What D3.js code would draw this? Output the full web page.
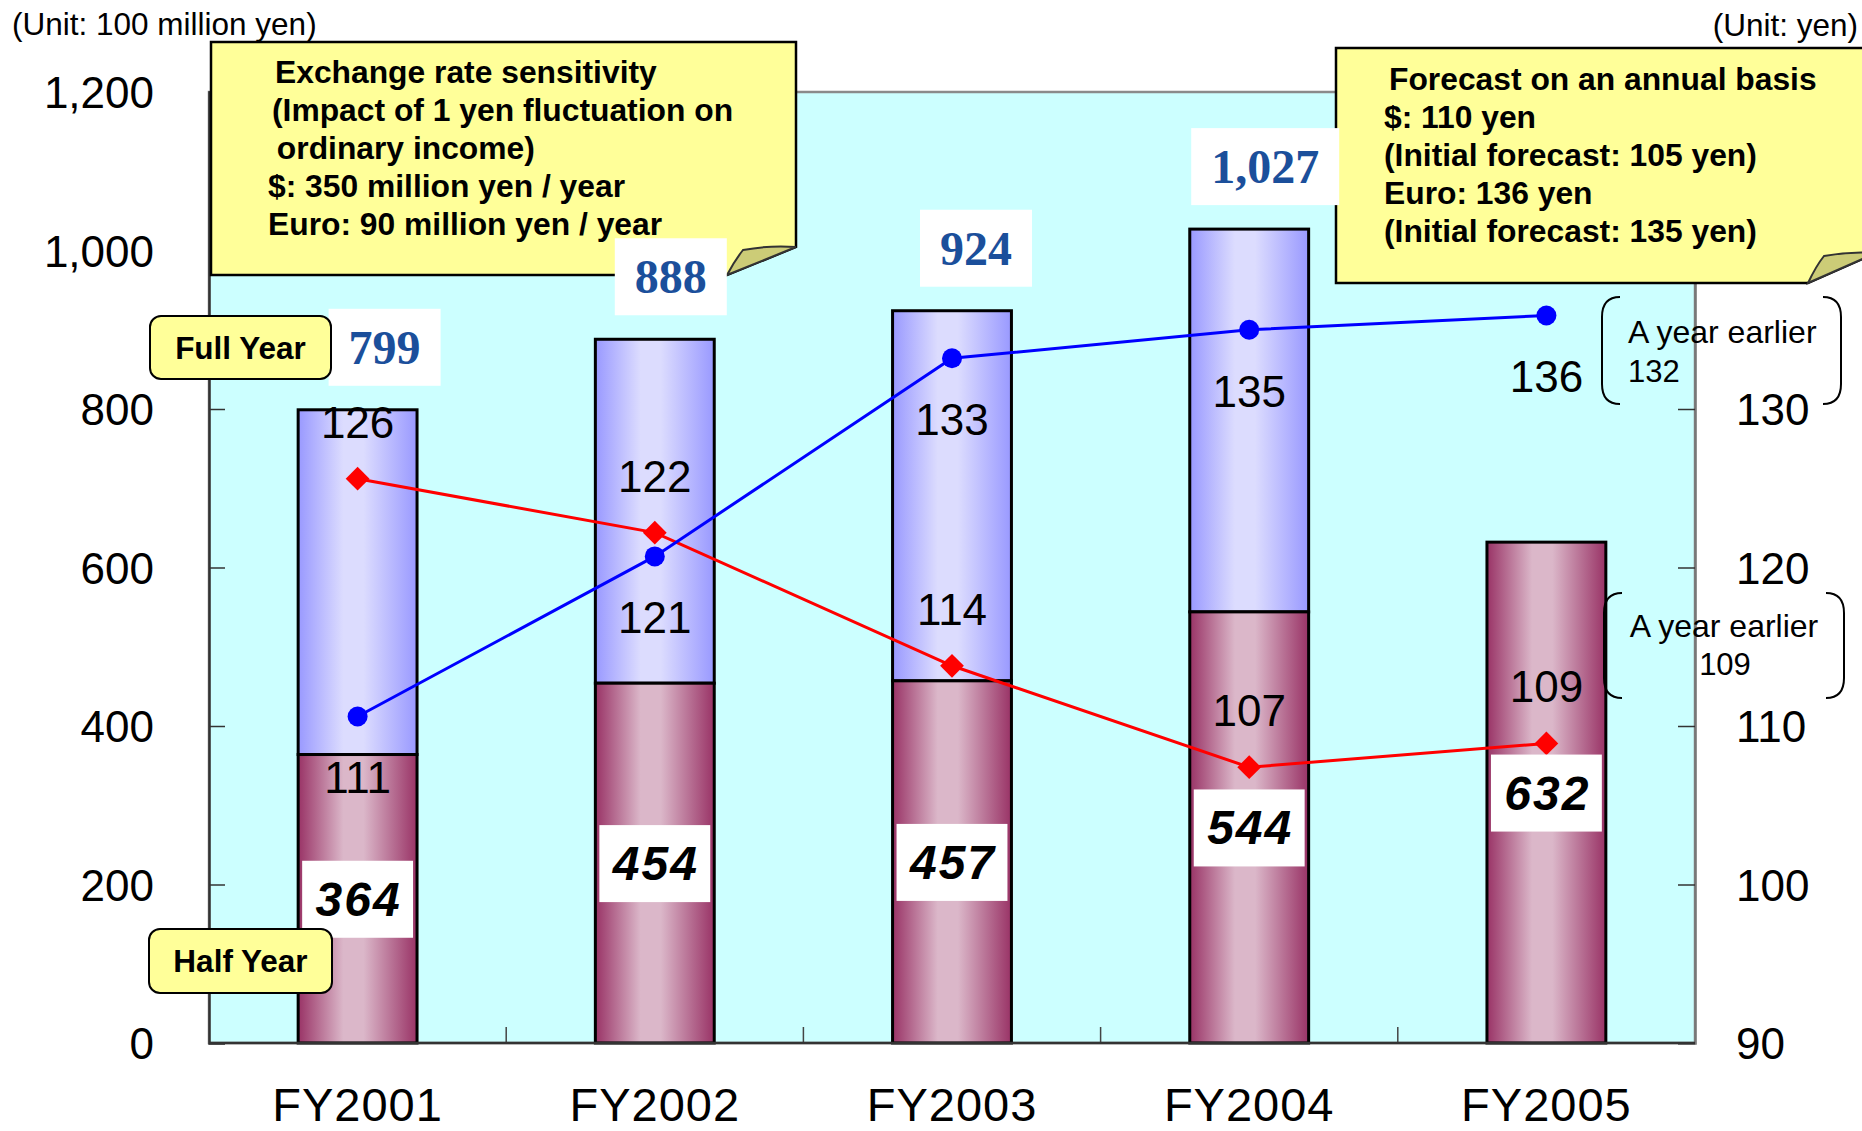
<!DOCTYPE html>
<html><head><meta charset="utf-8">
<script src="https://cdnjs.cloudflare.com/ajax/libs/d3/7.8.5/d3.min.js"></script>
<style>
html,body{margin:0;padding:0;background:#fff;}
svg{display:block;font-family:"Liberation Sans",Arial,sans-serif;}
</style></head><body>
<svg id="chart" width="1862" height="1131"></svg>
<script>
// ---- data ----
const categories = ["FY2001","FY2002","FY2003","FY2004","FY2005"];
const halfYear = [364,454,457,544,632];
const fullYear = [799,888,924,1027,null];
const usdRate = [125.6,122.2,113.8,107.4,108.9];
const euroRate = [110.6,120.7,133.2,135.0,135.9];
const leftTicks = [0,200,400,600,800,1000,1200];
const rightTicks = [90,100,110,120,130];
const sensitivityLines = ["Exchange rate sensitivity","(Impact of 1 yen fluctuation on"," ordinary income)","$: 350 million yen / year","Euro: 90 million yen / year"];
const forecastLines = ["Forecast on an annual basis","$: 110 yen","(Initial forecast: 105 yen)","Euro: 136 yen","(Initial forecast: 135 yen)"];
const earlierLabel = "A year earlier";
const earlierEuro = 132;
const earlierUsd = 109;
const unitLeft = "(Unit: 100 million yen)";
const unitRight = "(Unit: yen)";
const fullYearLabel = "Full Year";
const halfYearLabel = "Half Year";

// ---- layout ----
const svg = d3.select("#chart");
const L = 209, R = 1695, T = 92, B = 1043;
const x = d3.scaleBand().domain(categories).range([L, R]).paddingInner(0.6).paddingOuter(0.3);
const y = d3.scaleLinear().domain([0, 1200]).range([B, T]);
const yR = d3.scaleLinear().domain([90, 150]).range([B, T]);
const bw = x.bandwidth();
const cx = c => x(c) + bw / 2;
const fmt0 = d3.format(".0f");

const defs = svg.append("defs");
function grad(id, dark, light) {
  const g = defs.append("linearGradient").attr("id", id).attr("x1", 0).attr("x2", 1).attr("y1", 0).attr("y2", 0);
  [[0, dark], [0.38, light], [0.55, light], [1, dark]].forEach(([o, c]) => g.append("stop").attr("offset", o).attr("stop-color", c));
}
grad("gMaroon", "#993366", "#dbb7c9");
grad("gBlue", "#9999ff", "#dcdcfe");

// plot background
svg.append("rect").attr("x", L).attr("y", T).attr("width", R - L).attr("height", B - T)
  .attr("fill", "#ccffff").attr("stroke", "#8a8a8a").attr("stroke-width", 2.5);

// x tick separators
const step = x.step();
d3.range(1, categories.length).forEach(i => {
  const xx = L + i * step;
  svg.append("line").attr("x1", xx).attr("x2", xx).attr("y1", B).attr("y2", B - 16)
    .attr("stroke", "#444").attr("stroke-width", 1.5);
});

// bars
const rows = categories.map((c, i) => ({c, h: halfYear[i], f: fullYear[i]}));
svg.append("g").selectAll("rect").data(rows.filter(d => d.f != null)).join("rect")
  .attr("x", d => x(d.c)).attr("width", bw)
  .attr("y", d => y(d.f)).attr("height", d => y(d.h) - y(d.f))
  .attr("fill", "url(#gBlue)").attr("stroke", "#000").attr("stroke-width", 3);
svg.append("g").selectAll("rect").data(rows).join("rect")
  .attr("x", d => x(d.c)).attr("width", bw)
  .attr("y", d => y(d.h)).attr("height", d => y(0) - y(d.h))
  .attr("fill", "url(#gMaroon)").attr("stroke", "#000").attr("stroke-width", 3);

// lines
const line = d3.line().x(d => cx(d.c)).y(d => yR(d.v));
const usd = categories.map((c, i) => ({c, v: usdRate[i]}));
const eur = categories.map((c, i) => ({c, v: euroRate[i]}));
svg.append("path").datum(usd).attr("d", line).attr("fill", "none").attr("stroke", "#ff0000").attr("stroke-width", 3);
svg.append("path").datum(eur).attr("d", line).attr("fill", "none").attr("stroke", "#0000ff").attr("stroke-width", 3);
svg.append("g").selectAll("path").data(usd).join("path")
  .attr("d", d3.symbol(d3.symbolDiamond2, 360))
  .attr("transform", d => `translate(${cx(d.c)},${yR(d.v)})`).attr("fill", "#ff0000");
svg.append("g").selectAll("circle").data(eur).join("circle")
  .attr("cx", d => cx(d.c)).attr("cy", d => yR(d.v)).attr("r", 10).attr("fill", "#0000ff");

// rate labels
svg.append("g").selectAll("text").data(usd).join("text")
  .attr("x", d => cx(d.c)).attr("y", d => yR(d.v) - 56 + 15)
  .attr("text-anchor", "middle").attr("font-size", 44).attr("fill", "#000").text(d => fmt0(d.v));
svg.append("g").selectAll("text").data(eur).join("text")
  .attr("x", d => cx(d.c)).attr("y", d => yR(d.v) + 62 + 15)
  .attr("text-anchor", "middle").attr("font-size", 44).attr("fill", "#000").text(d => fmt0(d.v));

// half-year value boxes
const hb = svg.append("g");
rows.forEach(d => {
  const cy = y(d.h / 2);
  hb.append("rect").attr("x", x(d.c) + 4).attr("width", bw - 8).attr("y", cy - 38).attr("height", 77).attr("fill", "#fff");
  hb.append("text").attr("x", cx(d.c) + 1).attr("y", cy + 17).attr("text-anchor", "middle")
    .attr("font-size", 48).attr("font-weight", "bold").attr("font-style", "italic").attr("letter-spacing", 2).text(d.h);
});

// axes
const axL = svg.append("g").attr("transform", `translate(${L},0)`)
  .call(d3.axisLeft(y).tickValues(leftTicks).tickSize(-16).tickPadding(55).tickFormat(d3.format(",")));
const axR = svg.append("g").attr("transform", `translate(${R},0)`)
  .call(d3.axisRight(yR).tickValues(rightTicks).tickSize(-17).tickPadding(41).tickFormat(d3.format("d")));
[axL, axR].forEach(a => {
  a.select(".domain").attr("stroke", "#333").attr("stroke-width", 2.5);
  a.selectAll(".tick line").attr("stroke", "#333").attr("stroke-width", 1.5);
  a.selectAll(".tick text").attr("font-size", 44).attr("fill", "#000").attr("font-family", "Liberation Sans, Arial, sans-serif").attr("dy", "0.36em");
});
axR.select(".domain").attr("stroke", "#777");
svg.append("line").attr("x1", L).attr("x2", R).attr("y1", B).attr("y2", B).attr("stroke", "#333").attr("stroke-width", 2.5);

// x labels
svg.append("g").selectAll("text").data(categories).join("text")
  .attr("x", d => cx(d)).attr("y", 1121).attr("text-anchor", "middle")
  .attr("font-size", 47).attr("letter-spacing", 1).text(d => d);

// unit labels
svg.append("text").attr("x", 12).attr("y", 35).attr("font-size", 31.5).text(unitLeft);
svg.append("text").attr("x", 1858).attr("y", 36).attr("text-anchor", "end").attr("font-size", 31.5).text(unitRight);

// callouts
function callout(x0, y0, x1, y1, fx, fy, curlX, curlY) {
  svg.append("path")
    .attr("d", `M${x0},${y0} L${x1},${y0} L${x1},${fy} L${fx},${y1} L${x0},${y1} Z`)
    .attr("fill", "#ffff99").attr("stroke", "#000").attr("stroke-width", 2.5);
  svg.append("path")
    .attr("d", `M${x1},${fy} Q${(x1 + curlX) / 2},${fy - 2} ${curlX},${curlY} Q${curlX - 8},${curlY + 10} ${fx},${y1} Z`)
    .attr("fill", "#cccc77").attr("stroke", "#333").attr("stroke-width", 2);
}
callout(211, 42, 796, 275, 727, 247, 743, 250);
callout(1336, 48, 1876, 283, 1808, 253, 1824, 256);

const sensX = [275, 272, 268, 268, 268];
sensitivityLines.forEach((t, i) => {
  svg.append("text").attr("x", sensX[i]).attr("y", 83 + i * 38).attr("font-size", 31.8).attr("font-weight", "bold")
    .style("white-space", "pre").text(t);
});
const foreX = [1389, 1384, 1384, 1384, 1384];
forecastLines.forEach((t, i) => {
  svg.append("text").attr("x", foreX[i]).attr("y", 90 + i * 38).attr("font-size", 31.8).attr("font-weight", "bold").text(t);
});

// full-year total labels
const tb = svg.append("g");
const totalDx = [27, 16, 24, 16];
rows.filter(d => d.f != null).forEach((d, i) => {
  const tx = cx(d.c) + totalDx[i], ty = y(d.f) - 63;
  const t = tb.append("text").attr("x", tx).attr("y", ty + 17).attr("text-anchor", "middle")
    .attr("font-family", "Liberation Serif, Times New Roman, serif").attr("font-weight", "bold")
    .attr("font-size", 48).attr("fill", "#1b4f9b").text(d3.format(",")(d.f));
  const bb = t.node().getBBox();
  tb.insert("rect", "text").attr("x", bb.x - 20).attr("width", bb.width + 40).attr("y", ty - 38).attr("height", 77).attr("fill", "#fff");
});
tb.selectAll("text").raise();

// Full / Half year tags
function tag(x0, y0, w, h, label, base) {
  svg.append("rect").attr("x", x0).attr("y", y0).attr("width", w).attr("height", h).attr("rx", 11)
    .attr("fill", "#ffff99").attr("stroke", "#000").attr("stroke-width", 2);
  svg.append("text").attr("x", x0 + w / 2).attr("y", base).attr("text-anchor", "middle")
    .attr("font-size", 31.5).attr("font-weight", "bold").text(label);
}
tag(150, 316, 181, 63, fullYearLabel, 359);
tag(149, 929, 183, 64, halfYearLabel, 972);

// brackets
function bracket(xl, xr, top, bot) {
  const r = 20;
  svg.append("path").attr("d", `M${xl + 18},${top} Q${xl},${top} ${xl},${top + r} L${xl},${bot - r} Q${xl},${bot} ${xl + 18},${bot}`)
    .attr("fill", "none").attr("stroke", "#000").attr("stroke-width", 2);
  svg.append("path").attr("d", `M${xr - 18},${top} Q${xr},${top} ${xr},${top + r} L${xr},${bot - r} Q${xr},${bot} ${xr - 18},${bot}`)
    .attr("fill", "none").attr("stroke", "#000").attr("stroke-width", 2);
}
bracket(1602, 1841, 297, 404);
svg.append("text").attr("x", 1628).attr("y", 343).attr("font-size", 32).text(earlierLabel);
svg.append("text").attr("x", 1628).attr("y", 382).attr("font-size", 31).text(earlierEuro);
bracket(1604, 1844, 593, 698);
svg.append("text").attr("x", 1724).attr("y", 637).attr("text-anchor", "middle").attr("font-size", 32).text(earlierLabel);
svg.append("text").attr("x", 1725).attr("y", 675).attr("text-anchor", "middle").attr("font-size", 31).text(earlierUsd);
</script>
</body></html>
